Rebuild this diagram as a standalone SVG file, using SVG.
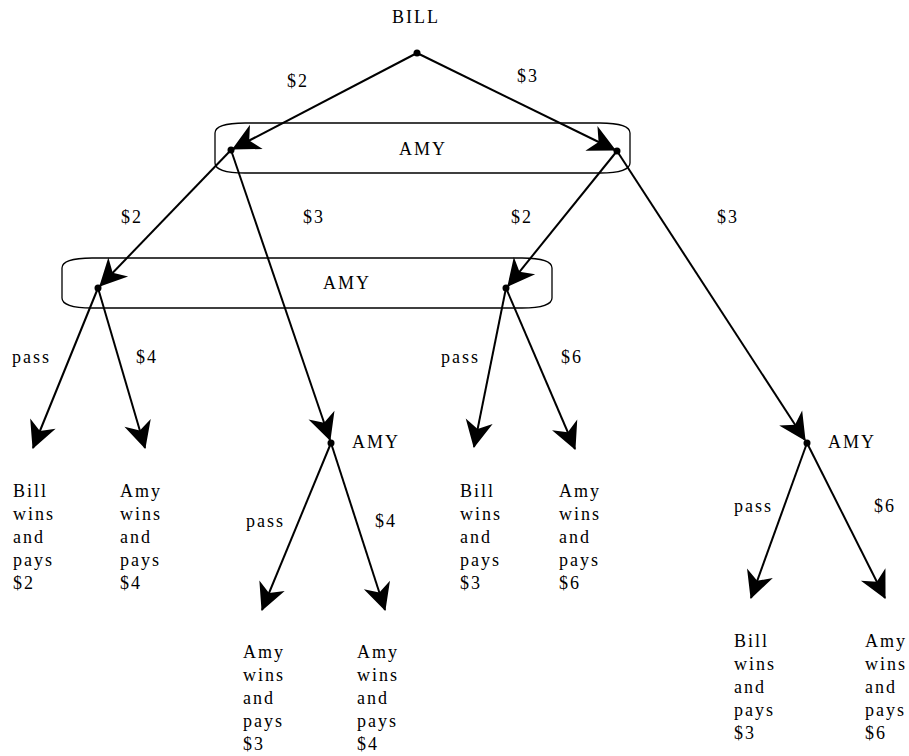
<svg xmlns="http://www.w3.org/2000/svg" width="909" height="756" viewBox="0 0 909 756">
<style>
text{font-family:"Liberation Serif","Times New Roman",serif;font-size:18px;letter-spacing:2px;fill:#000}
.e{stroke:#000;stroke-width:2;fill:none}
.a{marker-end:url(#ah)}
.set{fill:none;stroke:#000;stroke-width:1.3}
.dot{fill:#000}
</style>
<defs>
<marker id="ah" markerUnits="userSpaceOnUse" orient="auto" markerWidth="32" markerHeight="32" viewBox="-26 -14 28 28" refX="0" refY="0">
<path d="M1,0 L-23,-12 L-16,0 L-23,12 Z" fill="#000"/>
</marker>
</defs>
<rect width="909" height="756" fill="#fff"/>
<g id="infosets">
<path class="set" d="M245,123 H600 C620,123 630,127 630,133 V163 C630,169 620,173 600,173 H245 C225,173 215,169 215,163 V133 C215,127 225,123 245,123 Z"/>
<path class="set" d="M92,258 H522 C542,258 552,262 552,268 V298 C552,304 542,308 522,308 H92 C72,308 62,304 62,298 V268 C62,262 72,258 92,258 Z"/>
</g>
<g id="connectors">
<line class="e a" x1="417" y1="53" x2="233" y2="149"/>
<line class="e a" x1="417" y1="53" x2="615" y2="150"/>
<line class="e a" x1="231" y1="150" x2="100" y2="286"/>
<line class="e a" x1="231" y1="150" x2="330" y2="440"/>
<line class="e a" x1="617" y1="151" x2="508" y2="286"/>
<line class="e a" x1="617" y1="151" x2="805" y2="440"/>
<line class="e a" x1="98" y1="288" x2="33" y2="448"/>
<line class="e a" x1="98" y1="288" x2="145" y2="448"/>
<line class="e a" x1="506" y1="288" x2="474" y2="447"/>
<line class="e a" x1="506" y1="288" x2="575" y2="449"/>
<line class="e a" x1="331" y1="443" x2="262" y2="610"/>
<line class="e a" x1="331" y1="443" x2="385" y2="610"/>
<line class="e a" x1="807" y1="443" x2="751" y2="598"/>
<line class="e a" x1="807" y1="443" x2="885" y2="598"/>
</g>
<g id="edge-labels">
<text x="287" y="87">$2</text>
<text x="517" y="82">$3</text>
<text x="121" y="223">$2</text>
<text x="303" y="223">$3</text>
<text x="511" y="223">$2</text>
<text x="717" y="223">$3</text>
<text x="12" y="363">pass</text>
<text x="136" y="363">$4</text>
<text x="441" y="363">pass</text>
<text x="561" y="363">$6</text>
<text x="246" y="527">pass</text>
<text x="375" y="527">$4</text>
<text x="734" y="512">pass</text>
<text x="874" y="512">$6</text>
</g>
<g id="bill">
<circle class="dot" cx="417" cy="53" r="3.5"/>
<text x="392" y="23">BILL</text>
</g>
<g id="amy1">
<circle class="dot" cx="231" cy="150" r="3.5"/>
</g>
<g id="amy2">
<circle class="dot" cx="617" cy="151" r="3.5"/>
</g>
<g id="amy-set1"><text x="399" y="155">AMY</text></g>
<g id="amy3"><circle class="dot" cx="98" cy="288" r="3.5"/></g>
<g id="amy4"><circle class="dot" cx="506" cy="288" r="3.5"/></g>
<g id="amy-set2"><text x="323" y="289">AMY</text></g>
<g id="amy5">
<circle class="dot" cx="331" cy="443" r="3.5"/>
<text x="352" y="448">AMY</text>
</g>
<g id="amy6">
<circle class="dot" cx="807" cy="443" r="3.5"/>
<text x="828" y="448">AMY</text>
</g>
<g id="leaf1"><text x="13" y="497"><tspan x="13">Bill</tspan><tspan x="13" dy="23">wins</tspan><tspan x="13" dy="23">and</tspan><tspan x="13" dy="23">pays</tspan><tspan x="13" dy="23">$2</tspan></text></g>
<g id="leaf2"><text x="120" y="497"><tspan x="120">Amy</tspan><tspan x="120" dy="23">wins</tspan><tspan x="120" dy="23">and</tspan><tspan x="120" dy="23">pays</tspan><tspan x="120" dy="23">$4</tspan></text></g>
<g id="leaf3"><text x="460" y="497"><tspan x="460">Bill</tspan><tspan x="460" dy="23">wins</tspan><tspan x="460" dy="23">and</tspan><tspan x="460" dy="23">pays</tspan><tspan x="460" dy="23">$3</tspan></text></g>
<g id="leaf4"><text x="559" y="497"><tspan x="559">Amy</tspan><tspan x="559" dy="23">wins</tspan><tspan x="559" dy="23">and</tspan><tspan x="559" dy="23">pays</tspan><tspan x="559" dy="23">$6</tspan></text></g>
<g id="leaf5"><text x="243" y="658"><tspan x="243">Amy</tspan><tspan x="243" dy="23">wins</tspan><tspan x="243" dy="23">and</tspan><tspan x="243" dy="23">pays</tspan><tspan x="243" dy="23">$3</tspan></text></g>
<g id="leaf6"><text x="357" y="658"><tspan x="357">Amy</tspan><tspan x="357" dy="23">wins</tspan><tspan x="357" dy="23">and</tspan><tspan x="357" dy="23">pays</tspan><tspan x="357" dy="23">$4</tspan></text></g>
<g id="leaf7"><text x="734" y="647"><tspan x="734">Bill</tspan><tspan x="734" dy="23">wins</tspan><tspan x="734" dy="23">and</tspan><tspan x="734" dy="23">pays</tspan><tspan x="734" dy="23">$3</tspan></text></g>
<g id="leaf8"><text x="865" y="647"><tspan x="865">Amy</tspan><tspan x="865" dy="23">wins</tspan><tspan x="865" dy="23">and</tspan><tspan x="865" dy="23">pays</tspan><tspan x="865" dy="23">$6</tspan></text></g>
</svg>
